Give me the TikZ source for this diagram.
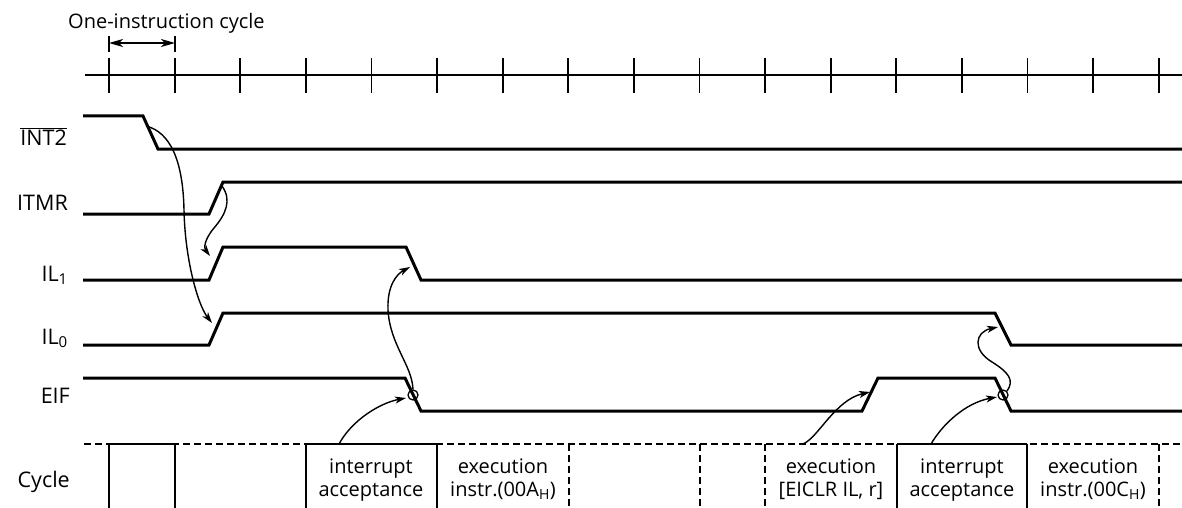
\documentclass[tikz,border=0pt]{standalone}
\usepackage{fontspec}
\setmainfont{Open Sans}
\usetikzlibrary{arrows.meta}
\begin{document}
\begin{tikzpicture}[x=1pt,y=-1pt,
  sig/.style={line width=3pt, line join=miter},
  axisline/.style={line width=1.6pt},
  tickmark/.style={line width=1.8pt},
  cause/.style={line width=1.4pt, -{Stealth[length=11pt,width=7pt,inset=3pt]}},
  lbl/.style={anchor=base east, inner sep=0pt, font=\fontsize{21.5}{25}\selectfont},
  celltext/.style={anchor=base, inner sep=0pt, font=\fontsize{20}{24}\selectfont},
  cellline/.style={line width=1.5pt},
  celldash/.style={line width=1.5pt, dash pattern=on 7pt off 4pt},
  ring/.style={circle, draw, line width=1.3pt, minimum size=10pt, inner sep=0pt}
]
\useasboundingbox (0,0) rectangle (1182,508);

% ---- title and one-instruction cycle marker
\node[anchor=base west, inner sep=0pt, font=\fontsize{20}{24}\selectfont] (title) at (68,29) {One-instruction cycle};
\coordinate (mA) at (109,43);
\coordinate (mB) at (175,43);
\draw[tickmark] (109,36) -- (109,52);
\draw[tickmark] (175,36) -- (175,52);
\draw[line width=1.5pt, {Stealth[length=14pt,width=8pt,inset=4pt]}-{Stealth[length=14pt,width=8pt,inset=4pt]}] (mA) -- (mB);

% ---- time axis
\draw[axisline] (85,75) -- (1182,75);
\foreach \i in {0,...,16} {
  \draw[tickmark] ({109+65.6*\i},58) -- ({109+65.6*\i},93);
}

% ---- signal labels
\node[lbl] (lint) at (67,145) {$\overline{\mbox{INT2}}$};
\node[lbl] (litmr) at (68,210) {ITMR};
\node[lbl] (lil1) at (68,281) {IL\textsubscript{1}};
\node[lbl] (lil0) at (68,344) {IL\textsubscript{0}};
\node[lbl] (leif) at (70,403) {EIF};
\node[lbl] (lcyc) at (70,487) {Cycle};

% ---- waveforms
\draw[sig] (83,116) -- (143,116) -- (158,149) -- (1182,149);
\draw[sig] (83,214) -- (209,214) -- (223,182) -- (1182,182);
\draw[sig] (83,280) -- (209,280) -- (223,247) -- (406,247) -- (421,280) -- (1182,280);
\draw[sig] (83,345) -- (209,345) -- (223,313) -- (995,313) -- (1011,345) -- (1182,345);
\draw[sig] (83,378) -- (405,378) -- (421,411) -- (862,411) -- (878,378) -- (995,378) -- (1011,411) -- (1182,411);

% ---- rings on EIF falling edges
\node[ring] (ringA) at (413,395) {};
\node[ring] (ringB) at (1003,395) {};

% ---- key points
\coordinate (int2fall) at (146,126);
\coordinate (il0rise) at (212,323);
\coordinate (itmrrise) at (222,186);
\coordinate (il1rise) at (210,256);
\coordinate (il1fall) at (410,267);
\coordinate (il0fall) at (998,327);
\coordinate (eifrise) at (870,392);
\coordinate (ringAin) at (406,398);
\coordinate (ringBin) at (997,397);
\coordinate (cellA) at (339,444);
\coordinate (cellB) at (803,444);
\coordinate (cellC) at (931,444);

% ---- cause/effect connectors
\draw[cause] (int2fall) .. controls (170,132) and (183,160) .. (184,210)
                        .. controls (185,260) and (198,305) .. (il0rise);
\draw[cause] (itmrrise) .. controls (232,200) and (226,214) .. (214,228)
                        .. controls (204,240) and (204,248) .. (il1rise);
\draw[cause] (ringA.north) .. controls (412,365) and (390,345) .. (388,310)
                           .. controls (387,285) and (397,274) .. (il1fall);
\draw[cause] (cellA) .. controls (352,420) and (380,403) .. (ringAin);
\draw[cause] (cellB) .. controls (818,438) and (835,400) .. (eifrise);
\draw[cause] (cellC) .. controls (942,425) and (965,403) .. (ringBin);
\draw[cause] (ringB.north east) .. controls (1015,380) and (1008,372) .. (992,362)
                                .. controls (972,350) and (975,332) .. (il0fall);

% ---- cycle row
\draw[celldash] (84,444) -- (1182,444);
\draw[cellline] (109,444) -- (175,444);
\draw[cellline] (306,444) -- (437,444);
\draw[cellline] (897,444) -- (1027,444);
\foreach \x in {109,175,306,437,897,1027} {
  \draw[cellline] (\x,444) -- (\x,508);
}
\foreach \x in {569,700,765,1159} {
  \draw[celldash] (\x,444) -- (\x,508);
}

\node[celltext] (t1a) at (371,473) {interrupt};
\node[celltext] (t1b) at (371,496) {acceptance};
\node[celltext] (t2a) at (503,473) {execution};
\node[celltext] (t2b) at (503,496) {instr.(00A\textsubscript{H})};
\node[celltext] (t3a) at (831,473) {execution};
\node[celltext] (t3b) at (831,496) {[EICLR IL, r]};
\node[celltext] (t4a) at (962,473) {interrupt};
\node[celltext] (t4b) at (962,496) {acceptance};
\node[celltext] (t5a) at (1093,473) {execution};
\node[celltext] (t5b) at (1093,496) {instr.(00C\textsubscript{H})};
\end{tikzpicture}
\end{document}
